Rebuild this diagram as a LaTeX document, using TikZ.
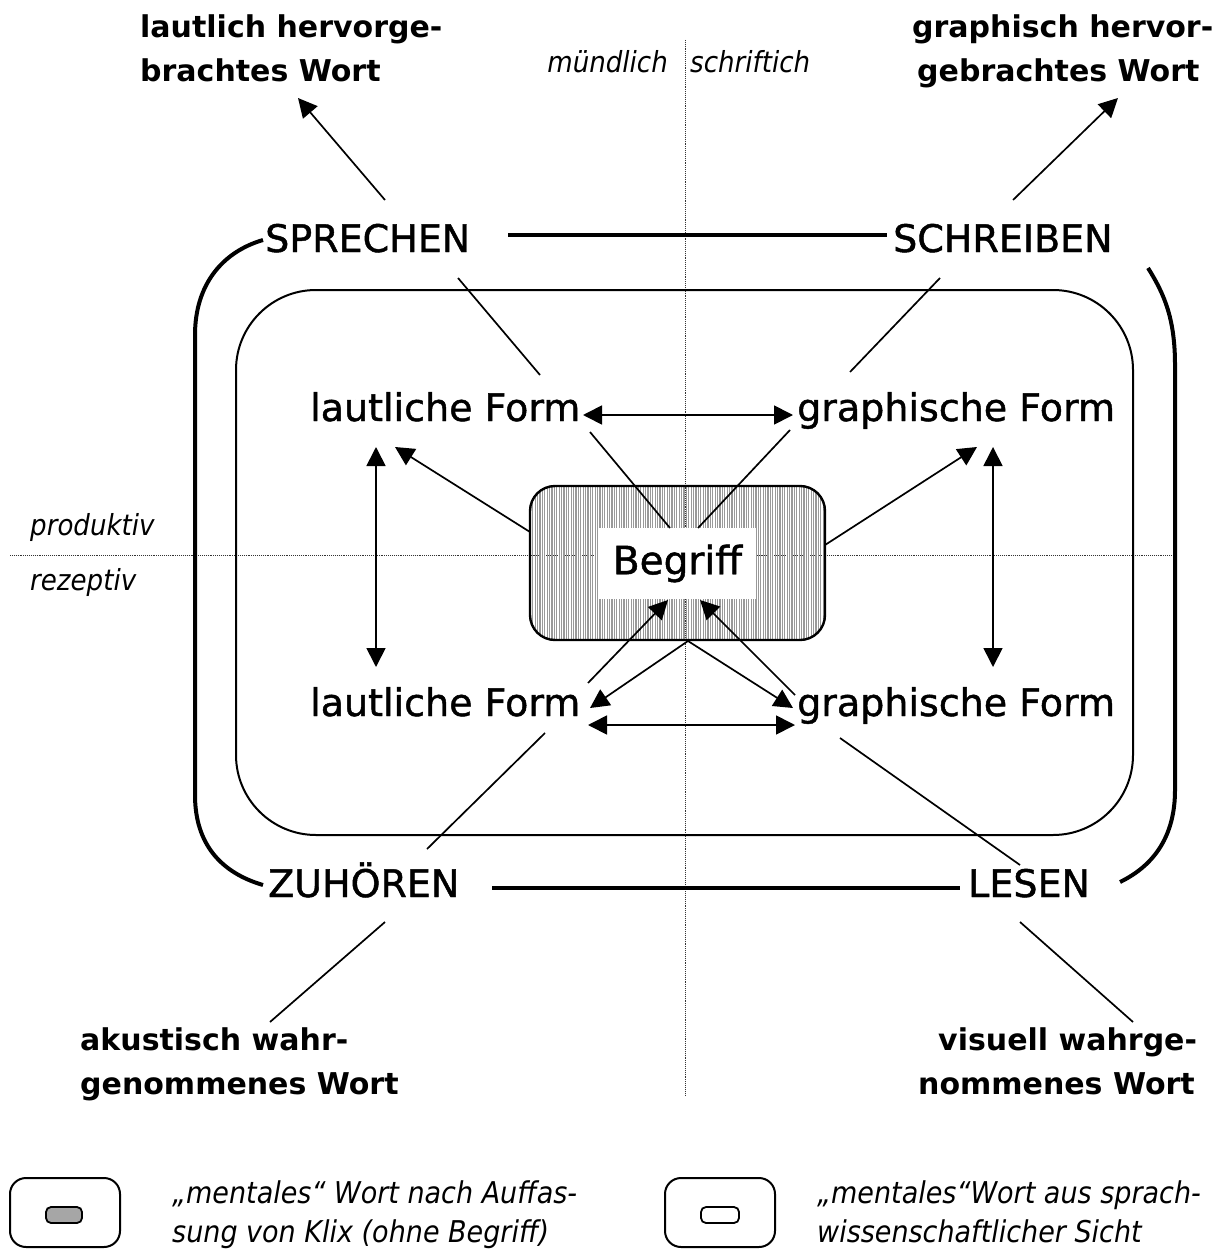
\documentclass[tikz,border=0pt]{standalone}
\usepackage{fontspec}
\setmainfont{DejaVu Sans}
\newfontfamily\midfont[FakeBold=1.2]{DejaVu Sans}
\newfontfamily\italfont[FakeStretch=0.9]{DejaVu Sans Oblique}
\usetikzlibrary{arrows.meta,patterns.meta}
\tikzset{
  big/.style={font=\midfont\fontsize{38}{44}\selectfont, inner sep=0pt, anchor=base west},
  corner/.style={font=\bfseries\fontsize{30}{44}\selectfont, inner sep=0pt, anchor=base west},
  ital/.style={font=\italfont\fontsize{29}{32}\selectfont, inner sep=0pt},
  legend/.style={font=\italfont\fontsize{30}{40}\selectfont, inner sep=0pt, anchor=base west},
  thin/.style={line width=1.7pt},
  arr/.style={thin, -{Triangle[length=19pt,width=19pt]}},
  dbl/.style={thin, {Triangle[length=19pt,width=19pt]}-{Triangle[length=19pt,width=19pt]}},
  thick line/.style={line width=4pt},
  dotline/.style={line width=0.9pt, densely dotted, black!80},
}
\begin{document}
\begin{tikzpicture}[x=1pt,y=-1pt]
\useasboundingbox (0,0) rectangle (1221,1249);
% dotted axes
\coordinate (vtop) at (685,40);
\coordinate (vbot) at (685,1095);
\coordinate (hleft) at (10,555);
\coordinate (hright) at (1175,555);
\draw[dotline] (vtop) -- (vbot);
\draw[dotline] (hleft) -- (hright);
% inner rounded rectangle
\draw[line width=2pt, rounded corners=80pt] (236,290) rectangle (1133,835);
% outer brackets
\draw[thick line] (263,240) .. controls (222,252) and (195,285) .. (195,335) -- (195,795) .. controls (195,845) and (222,873) .. (263,885);
\draw[thick line] (1148,268) .. controls (1165,295) and (1175,320) .. (1175,365) -- (1175,790) .. controls (1175,835) and (1155,865) .. (1120,882);
% Begriff box
\node[draw, line width=2.4pt, rounded corners=25pt, minimum width=295pt, minimum height=154pt,
      pattern={Lines[angle=90,distance=2.4pt,line width=1.1pt]}, pattern color=black!40] (beg) at (677.5,563) {};
\node[fill=white, minimum width=157pt, minimum height=71pt, inner sep=0pt,
      font=\midfont\fontsize{39}{44}\selectfont] (begt) at (677.5,563.5) {Begriff};
% labels
\node[big] (spr) at (265,252) {SPRECHEN};
\node[big] (schr) at (893,252) {SCHREIBEN};
\node[big] (zuh) at (268,897) {ZUHÖREN};
\node[big] (les) at (968,897) {LESEN};
\node[big] (lf1) at (310,421) {lautliche Form};
\node[big] (gf1) at (797,421) {graphische Form};
\node[big] (lf2) at (310,716) {lautliche Form};
\node[big] (gf2) at (797,716) {graphische Form};
% thick horizontal lines
\coordinate (t1) at (508,235); \coordinate (t2) at (887,235);
\coordinate (b1) at (492,888); \coordinate (b2) at (960,888);
\draw[thick line] (t1) -- (t2);
\draw[thick line] (b1) -- (b2);
% corner labels
\node[corner] (tla) at (140,38) {lautlich hervorge-};
\node[corner] (tlb) at (140,82) {brachtes Wort};
\node[corner] (tra) at (912,38) {graphisch hervor-};
\node[corner] (trb) at (917,82) {gebrachtes Wort};
\node[corner] (bla) at (80,1050) {akustisch wahr-};
\node[corner] (blb) at (80,1094) {genommenes Wort};
\node[corner] (bra) at (938,1050) {visuell wahrge-};
\node[corner] (brb) at (918,1094) {nommenes Wort};
% italic axis labels
\node[ital, anchor=base east] (mue) at (668,73) {mündlich};
\node[ital, anchor=base west] (sch) at (690,73) {schriftich};
\node[ital, anchor=base west] (pro) at (30,535) {produktiv};
\node[ital, anchor=base west] (rez) at (30,590) {rezeptiv};
% connector coordinates
\coordinate (sprU) at (385,200); \coordinate (tlT) at (298,98);
\coordinate (schrU) at (1013,200); \coordinate (trT) at (1118,98);
\coordinate (zuhD) at (385,922); \coordinate (blT) at (270,1022);
\coordinate (lesD) at (1020,922); \coordinate (brT) at (1133,1022);
\coordinate (sprL) at (458,278); \coordinate (lf1U) at (540,375);
\coordinate (schrL) at (940,278); \coordinate (gf1U) at (850,372);
\coordinate (lf1D) at (590,432); \coordinate (begTL) at (670,528);
\coordinate (gf1D) at (790,430); \coordinate (begTR) at (698,528);
\coordinate (zuhU) at (427,849); \coordinate (lf2L) at (545,733);
\coordinate (lf2U) at (588,683); \coordinate (begBL) at (668,600);
\coordinate (gf2U) at (795,695); \coordinate (begBR) at (700,600);
\coordinate (begB) at (688,641); \coordinate (lf2T) at (590,708); \coordinate (gf2T) at (793,708);
\coordinate (gf2L) at (840,738); \coordinate (lesU) at (1020,865);
\coordinate (hb1) at (588,725); \coordinate (hb2) at (795,725);
\coordinate (ht1) at (583,415); \coordinate (ht2) at (793,415);
\coordinate (begL) at (530,532); \coordinate (lfS) at (395,447);
\coordinate (begR) at (825,545); \coordinate (gfS) at (977,447);
\coordinate (vl1) at (376,447); \coordinate (vl2) at (376,667);
\coordinate (vr1) at (993,447); \coordinate (vr2) at (993,667);
% connectors
\draw[arr] (sprU) -- (tlT);
\draw[arr] (schrU) -- (trT);
\draw[thin] (zuhD) -- (blT);
\draw[thin] (lesD) -- (brT);
\draw[thin] (sprL) -- (lf1U);
\draw[thin] (schrL) -- (gf1U);
\draw[thin] (lf1D) -- (begTL);
\draw[thin] (gf1D) -- (begTR);
\draw[thin] (zuhU) -- (lf2L);
\draw[arr] (lf2U) -- (begBL);
\draw[arr] (gf2U) -- (begBR);
\draw[arr] (begB) -- (lf2T);
\draw[arr] (begB) -- (gf2T);
\draw[thin] (gf2L) -- (lesU);
\draw[dbl] (hb1) -- (hb2);
\draw[dbl] (ht1) -- (ht2);
\draw[arr] (begL) -- (lfS);
\draw[arr] (begR) -- (gfS);
\draw[dbl] (vl1) -- (vl2);
\draw[dbl] (vr1) -- (vr2);
% legend
\draw[line width=2pt, rounded corners=16pt] (10,1178) rectangle (120,1247);
\draw[line width=1.8pt, rounded corners=5pt, fill=black!35] (46,1207) rectangle (82,1223);
\draw[line width=2pt, rounded corners=16pt] (665,1178) rectangle (775,1247);
\draw[line width=1.8pt, rounded corners=5pt, fill=white] (701,1207) rectangle (739,1223);
\node[legend] (la) at (172,1203) {„mentales“ Wort nach Auffas-};
\node[legend] (lb) at (172,1242) {sung von Klix (ohne Begriff)};
\node[legend] (ra) at (817,1203) {„mentales“Wort aus sprach-};
\node[legend] (rb) at (817,1242) {wissenschaftlicher Sicht};
\end{tikzpicture}
\end{document}
